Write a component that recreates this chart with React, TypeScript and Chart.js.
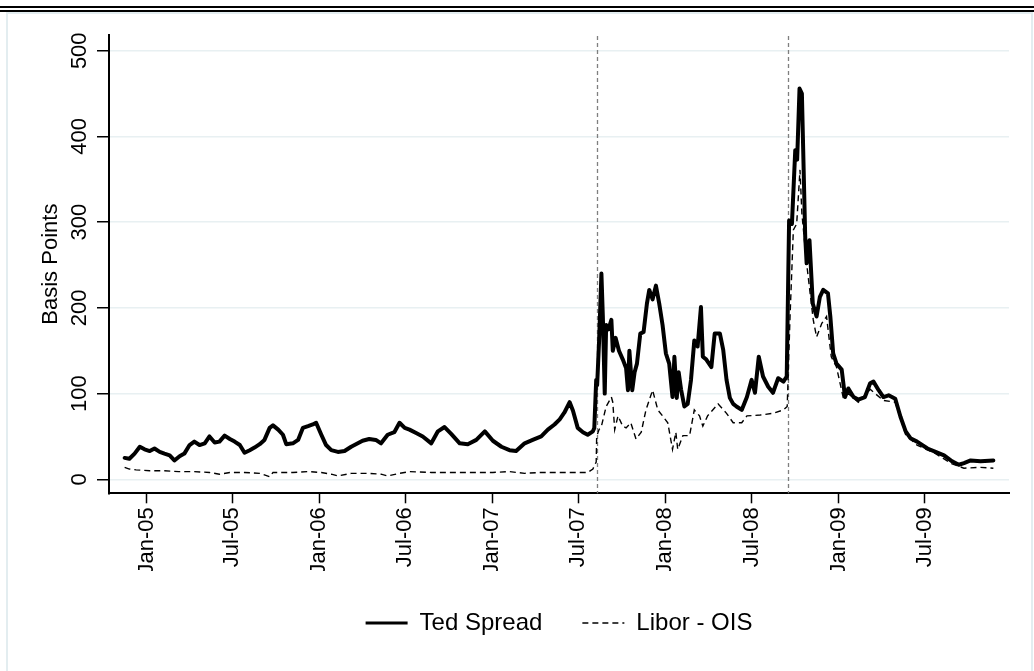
import React, { useEffect, useRef } from 'react';
import { Chart, registerables } from 'chart.js';

Chart.register(...registerables);

// ---- Data ----
const tedDates = [
  '2004-11-16','2004-11-26','2004-12-07','2004-12-18','2004-12-28','2005-01-08','2005-01-18','2005-01-29',
  '2005-02-08','2005-02-19','2005-03-01','2005-03-12','2005-03-22','2005-04-02','2005-04-12','2005-04-23',
  '2005-05-04','2005-05-14','2005-05-25','2005-06-04','2005-06-15','2005-06-26','2005-07-06','2005-07-17',
  '2005-07-27','2005-08-07','2005-08-17','2005-08-28','2005-09-07','2005-09-18','2005-09-25','2005-10-06',
  '2005-10-16','2005-10-23','2005-11-06','2005-11-17','2005-11-27','2005-12-08','2005-12-18','2005-12-25',
  '2006-01-05','2006-01-15','2006-01-26','2006-02-09','2006-02-23','2006-03-09','2006-03-23','2006-04-02',
  '2006-04-16','2006-04-30','2006-05-11','2006-05-25','2006-06-08','2006-06-19','2006-06-30','2006-07-10',
  '2006-07-24','2006-08-07','2006-08-25','2006-09-08','2006-09-22','2006-10-06','2006-10-24','2006-11-10',
  '2006-11-28','2006-12-16','2007-01-02','2007-01-20','2007-02-06','2007-02-20','2007-03-10','2007-03-27',
  '2007-04-14','2007-04-28','2007-05-12','2007-05-23','2007-06-02','2007-06-13','2007-06-20','2007-06-30',
  '2007-07-11','2007-07-21','2007-08-01','2007-08-04','2007-08-08','2007-08-10','2007-08-14','2007-08-19',
  '2007-08-22','2007-08-26','2007-08-29','2007-09-03','2007-09-09','2007-09-12','2007-09-18','2007-09-25',
  '2007-10-03','2007-10-10','2007-10-14','2007-10-17','2007-10-23','2007-10-28','2007-11-02','2007-11-09',
  '2007-11-16','2007-11-23','2007-11-28','2007-12-05','2007-12-12','2007-12-19','2007-12-26','2008-01-02',
  '2008-01-09','2008-01-16','2008-01-20','2008-01-25','2008-01-29','2008-02-03','2008-02-10','2008-02-17',
  '2008-02-24','2008-03-02','2008-03-09','2008-03-16','2008-03-20','2008-03-27','2008-04-07','2008-04-14',
  '2008-04-25','2008-05-02','2008-05-09','2008-05-16','2008-05-23','2008-05-30','2008-06-10','2008-06-21',
  '2008-07-01','2008-07-08','2008-07-16','2008-07-25','2008-08-05','2008-08-15','2008-08-26','2008-09-06',
  '2008-09-13','2008-09-18','2008-09-24','2008-10-01','2008-10-05','2008-10-10','2008-10-15','2008-10-22',
  '2008-10-25','2008-10-31','2008-11-07','2008-11-15','2008-11-22','2008-11-29','2008-12-09','2008-12-14',
  '2008-12-20','2008-12-27','2009-01-07','2009-01-14','2009-01-21','2009-02-01','2009-02-11','2009-02-25',
  '2009-03-08','2009-03-15','2009-03-26','2009-04-05','2009-04-16','2009-04-30','2009-05-11','2009-05-22',
  '2009-06-01','2009-06-15','2009-07-07','2009-07-24','2009-08-11','2009-08-28','2009-09-11','2009-09-22',
  '2009-10-06','2009-10-27','2009-11-23',
];
const tedValues = [
  25, 24, 30, 38, 35, 33, 36, 32,
  30, 28, 22, 27, 30, 40, 44, 40,
  42, 50, 43, 44, 51, 47, 44, 40,
  31, 34, 37, 41, 46, 60, 63, 58,
  52, 41, 42, 46, 60, 62, 64, 66,
  52, 40, 34, 32, 33, 38, 42, 45,
  47, 46, 42, 52, 55, 66, 60, 58,
  54, 50, 42, 56, 61, 53, 42, 41,
  46, 56, 45, 38, 34, 33, 42, 46,
  50, 58, 64, 70, 78, 90, 80, 60,
  55, 52, 56, 60, 116, 110, 160, 240,
  190, 100, 180, 175, 186, 150, 165, 150,
  140, 130, 104, 150, 104, 125, 135, 170,
  172, 205, 221, 210, 226, 205, 180, 147,
  135, 96, 143, 95, 125, 105, 85, 88,
  116, 162, 155, 201, 143, 140, 131, 170,
  170, 151, 116, 95, 88, 85, 81, 96,
  116, 101, 143, 120, 108, 101, 118, 114,
  120, 302, 298, 384, 373, 456, 450, 283,
  252, 279, 205, 190, 213, 221, 217, 190,
  147, 135, 128, 96, 106, 96, 93, 96,
  112, 114, 104, 96, 98, 94, 73, 56,
  48, 44, 36, 32, 28, 21, 17, 19,
  22, 21, 22,
];

const liborDates = [
  '2004-11-16','2004-11-26','2004-12-10','2005-01-08','2005-02-08','2005-03-10','2005-04-12','2005-05-14',
  '2005-06-04','2005-06-26','2005-07-27','2005-08-28','2005-09-18','2005-09-25','2005-10-16','2005-11-06',
  '2005-12-08','2006-01-05','2006-01-26','2006-02-09','2006-03-09','2006-04-16','2006-05-11','2006-05-25',
  '2006-06-19','2006-07-10','2006-08-25','2006-10-06','2006-11-28','2007-01-02','2007-02-06','2007-03-10',
  '2007-04-14','2007-06-13','2007-07-21','2007-08-01','2007-08-06','2007-08-08','2007-08-09','2007-08-14',
  '2007-08-19','2007-08-29','2007-09-09','2007-09-12','2007-09-16','2007-09-23','2007-10-03','2007-10-10',
  '2007-10-20','2007-10-31','2007-11-11','2007-11-21','2007-12-05','2007-12-16','2007-12-26','2008-01-06',
  '2008-01-16','2008-01-23','2008-01-27','2008-02-07','2008-02-21','2008-03-02','2008-03-13','2008-03-20',
  '2008-03-30','2008-04-21','2008-05-09','2008-05-23','2008-06-10','2008-06-21','2008-07-19','2008-08-15',
  '2008-09-06','2008-09-14','2008-09-20','2008-09-27','2008-10-04','2008-10-11','2008-10-15','2008-10-25',
  '2008-11-08','2008-11-15','2008-11-26','2008-12-06','2008-12-16','2008-12-27','2009-01-10','2009-01-21',
  '2009-02-11','2009-03-08','2009-04-05','2009-04-30','2009-05-22','2009-06-15','2009-07-24','2009-08-28',
  '2009-09-22','2009-10-27','2009-11-23',
];
const liborValues = [
  14, 12, 11, 10, 10, 9, 9, 8,
  6, 8, 8, 7, 3, 8, 8, 8,
  9, 8, 6, 4, 7, 7, 6, 4,
  7, 9, 8, 8, 8, 8, 9, 7,
  8, 8, 8, 12, 18, 20, 50, 58,
  62, 85, 96, 90, 58, 74, 62, 60,
  66, 47, 55, 81, 104, 81, 74, 66,
  35, 55, 35, 51, 51, 81, 74, 62,
  74, 88, 77, 66, 66, 74, 75, 77,
  81, 85, 190, 291, 298, 361, 310, 252,
  186, 166, 182, 190, 143, 131, 96, 100,
  90, 105, 92, 90, 52, 40, 30, 18,
  13, 14, 13,
];

const xTickDates = [
  '2005-01-01','2005-07-01','2006-01-01','2006-07-01','2007-01-01',
  '2007-07-01','2008-01-01','2008-07-01','2009-01-01','2009-07-01',
];
const xTickLabels = [
  'Jan-05','Jul-05','Jan-06','Jul-06','Jan-07',
  'Jul-07','Jan-08','Jul-08','Jan-09','Jul-09',
];
const yTicks = [0, 100, 200, 300, 400, 500];
const eventDates = ['2007-08-09', '2008-09-15'];
const xRange = ['2004-10-14', '2009-12-26'];
const yRange = [-16.3, 518.4];
const seriesLabels = ['Ted Spread', 'Libor - OIS'];

const FONT = "'Liberation Sans', Arial, Helvetica, sans-serif";
const toDay = (s: string) => Date.parse(s + 'T00:00:00Z') / 86400000;

const eventLinesPlugin = {
  id: 'eventLines',
  beforeDatasetsDraw(chart: any) {
    const { ctx, chartArea, scales } = chart;
    ctx.save();
    ctx.strokeStyle = '#7f7f7f';
    ctx.lineWidth = 1.3;
    ctx.setLineDash([4, 3]);
    eventDates.forEach((d) => {
      const x = Math.round(scales.x.getPixelForValue(toDay(d))) + 0.5;
      ctx.beginPath();
      ctx.moveTo(x, chartArea.top + 1);
      ctx.lineTo(x, chartArea.bottom);
      ctx.stroke();
    });
    ctx.restore();
  },
};

export default function App() {
  const canvasRef = useRef<HTMLCanvasElement | null>(null);

  useEffect(() => {
    const canvas = canvasRef.current;
    if (!canvas) return;
    const chart = new Chart(canvas, {
      type: 'line',
      data: {
        datasets: [
          {
            label: seriesLabels[0],
            data: tedDates.map((d, i) => ({ x: toDay(d), y: tedValues[i] })),
            borderColor: '#000',
            backgroundColor: '#000',
            borderWidth: 4,
            borderJoinStyle: 'round',
            borderCapStyle: 'round',
            pointRadius: 0,
            pointStyle: 'line',
            tension: 0,
          },
          {
            label: seriesLabels[1],
            data: liborDates.map((d, i) => ({ x: toDay(d), y: liborValues[i] })),
            borderColor: '#000',
            backgroundColor: '#000',
            borderWidth: 1.4,
            borderDash: [6, 4],
            pointRadius: 0,
            pointStyle: 'line',
            tension: 0,
          },
        ],
      },
      options: {
        responsive: false,
        animation: false,
        devicePixelRatio: 1,
        layout: { padding: { top: 35, right: 25, bottom: 26, left: 0 } },
        scales: {
          x: {
            type: 'linear',
            min: toDay(xRange[0]),
            max: toDay(xRange[1]),
            afterBuildTicks: (s: any) => {
              s.ticks = xTickDates.map((d) => ({ value: toDay(d) }));
            },
            afterFit: (s: any) => {
              s.height = 77.7;
            },
            grid: {
              drawOnChartArea: false,
              drawTicks: true,
              tickLength: 10,
              tickColor: '#000',
              tickWidth: 1.5,
            },
            border: { display: true, color: '#000', width: 2 },
            ticks: {
              autoSkip: false,
              minRotation: 90,
              maxRotation: 90,
              padding: 4,
              color: '#000',
              font: { family: FONT, size: 22 },
              callback: (_v: any, i: number) => xTickLabels[i],
            },
          },
          y: {
            type: 'linear',
            min: yRange[0],
            max: yRange[1],
            afterBuildTicks: (s: any) => {
              s.ticks = yTicks.map((v) => ({ value: v }));
            },
            afterFit: (s: any) => {
              s.width = 109;
            },
            grid: {
              color: '#e8f0f2',
              lineWidth: 1.5,
              drawTicks: true,
              tickLength: 12,
              tickColor: '#000',
              tickWidth: 1.5,
            },
            border: { display: true, color: '#000', width: 2 },
            ticks: {
              minRotation: 90,
              maxRotation: 90,
              crossAlign: 'center',
              padding: -1,
              color: '#000',
              font: { family: FONT, size: 22 },
              callback: (v: any) => String(v),
            },
            title: {
              display: true,
              text: 'Basis Points',
              color: '#000',
              font: { family: FONT, size: 22 },
              padding: { top: 38, bottom: 0 },
            },
          },
        },
        plugins: {
          tooltip: { enabled: false },
          legend: {
            position: 'bottom',
            fullSize: false,
            labels: {
              usePointStyle: true,
              pointStyleWidth: 42,
              padding: 40,
              color: '#000',
              font: { family: FONT, size: 24 },
              generateLabels: (ch: any) => {
                const base = (Chart.defaults.plugins.legend.labels as any).generateLabels(ch);
                return base.map((it: any) => {
                  const ds: any = ch.data.datasets[it.datasetIndex];
                  return {
                    ...it,
                    pointStyle: 'line',
                    strokeStyle: '#000',
                    lineWidth: ds.borderDash ? 1.4 : 3,
                    lineDash: ds.borderDash || [],
                  };
                });
              },
            },
          },
        },
      } as any,
      plugins: [eventLinesPlugin],
    });
    return () => chart.destroy();
  }, []);

  return (
    <div style={{ position: 'absolute', left: 0, top: 0, width: 1034, height: 671, background: '#fff', overflow: 'hidden' }}>
      <div style={{ position: 'absolute', left: 0, top: 6, width: 1034, height: 2, background: '#000' }} />
      <div style={{ position: 'absolute', left: 0, top: 10, width: 1034, height: 2, background: '#000' }} />
      <div
        style={{
          position: 'absolute',
          left: 6,
          top: 12,
          width: 1027,
          height: 659,
          boxSizing: 'border-box',
          borderLeft: '2px solid #e3edf0',
          borderRight: '2px solid #e3edf0',
          borderTop: '2px solid #e3edf0',
        }}
      />
      <canvas ref={canvasRef} width={1034} height={671} style={{ position: 'absolute', left: 0, top: 0 }} />
    </div>
  );
}
